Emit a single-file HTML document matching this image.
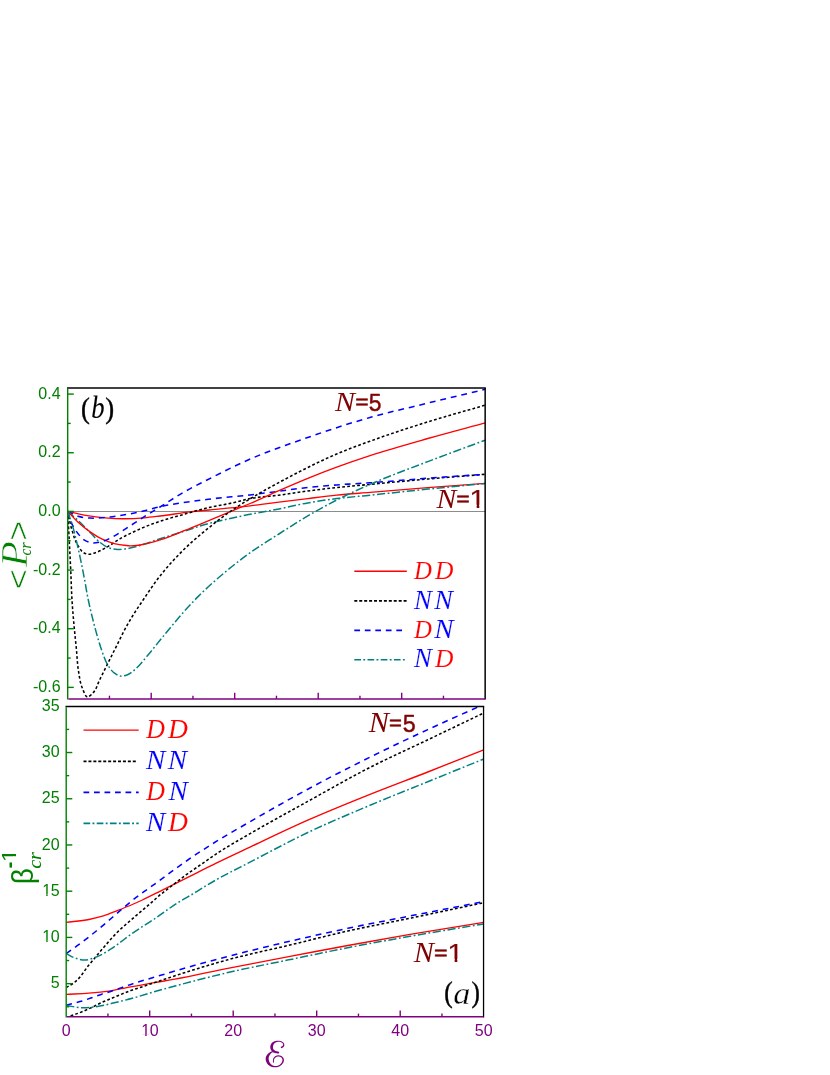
<!DOCTYPE html>
<html><head><meta charset="utf-8"><title>chart</title>
<style>html,body{margin:0;padding:0;background:#fff}svg{display:block}text{font-family:"Liberation Sans", sans-serif}</style></head><body>
<svg width="830" height="1075" viewBox="0 0 830 1075">
<rect width="830" height="1075" fill="#fff"/>
<g opacity="0.999">
<defs>
<clipPath id="ct"><rect x="67.70" y="388.05" width="417.45" height="310.85"/></clipPath>
<clipPath id="cb"><rect x="66.20" y="706.50" width="417.35" height="310.30"/></clipPath>
<clipPath id="one"><path d="M-5 -90H70V-11H34.05V3H25.1V-11H-5Z"/></clipPath>
</defs>
<line x1="67.70" y1="511.5" x2="485.15" y2="511.5" stroke="#7f7f7f" stroke-width="0.9"/>
<path d="M67.70 511.40 C73.17 512.63 78.59 514.09 84.10 515.10 C92.05 516.56 100.13 517.52 108.20 518.10 C113.02 518.45 117.87 518.66 122.70 518.70 C129.90 518.76 137.12 518.40 144.30 517.80 C149.55 517.36 154.77 516.64 160.00 516.00 C170.05 514.77 180.05 513.09 190.10 511.90 C200.11 510.72 210.17 509.92 220.20 508.90 C230.14 507.89 240.08 506.94 250.00 505.80 C259.64 504.70 269.27 503.40 278.90 502.20 C288.53 501.00 298.16 499.77 307.80 498.60 C317.43 497.43 327.05 496.18 336.70 495.20 C347.78 494.07 358.90 493.33 370.00 492.40 C389.27 490.79 408.53 489.12 427.80 487.60 C446.93 486.09 466.07 484.73 485.20 483.30" fill="none" stroke="#ff0000" stroke-width="1.35" clip-path="url(#ct)"/>
<path d="M67.70 511.40 C69.13 517.63 70.10 524.01 72.00 530.10 C73.67 535.44 75.06 541.16 78.10 545.80 C79.79 548.38 81.43 551.67 84.10 553.00 C85.51 553.70 87.30 554.12 88.90 554.20 C91.30 554.32 93.77 553.18 96.10 552.40 C100.35 550.99 104.29 548.62 108.20 546.40 C112.34 544.05 116.07 540.97 120.20 538.60 C124.11 536.36 128.22 534.44 132.30 532.50 C136.26 530.61 140.25 528.78 144.30 527.10 C149.45 524.97 154.72 523.08 160.00 521.30 C167.92 518.63 176.05 516.57 184.10 514.30 C192.12 512.04 200.10 509.61 208.20 507.70 C216.17 505.82 224.31 504.69 232.30 502.90 C238.22 501.57 244.05 499.75 250.00 498.60 C259.51 496.76 269.28 496.46 278.90 495.20 C288.55 493.93 298.15 492.29 307.80 491.00 C317.42 489.72 327.05 488.54 336.70 487.50 C347.78 486.30 358.90 485.43 370.00 484.40 C389.27 482.60 408.52 480.69 427.80 479.00 C446.92 477.32 466.07 475.87 485.20 474.30" fill="none" stroke="#000000" stroke-width="1.55" stroke-dasharray="2.8 2.2" clip-path="url(#ct)"/>
<path d="M67.70 511.40 C71.17 513.03 74.48 515.18 78.10 516.30 C81.92 517.48 86.08 517.82 90.10 518.10 C96.10 518.52 102.20 517.79 108.20 517.20 C114.26 516.60 120.30 515.56 126.30 514.50 C132.33 513.43 138.33 512.18 144.30 510.80 C149.56 509.58 154.74 508.01 160.00 506.80 C175.83 503.16 192.08 501.37 208.20 499.30 C222.09 497.52 236.09 496.55 250.00 494.90 C259.64 493.76 269.27 492.43 278.90 491.20 C288.53 489.97 298.15 488.55 307.80 487.50 C317.41 486.45 327.06 485.65 336.70 484.90 C347.79 484.04 358.90 483.57 370.00 482.80 C389.28 481.47 408.53 479.62 427.80 478.20 C446.93 476.79 466.07 475.60 485.20 474.30" fill="none" stroke="#0000ff" stroke-width="1.55" stroke-dasharray="5.9 4.9" clip-path="url(#ct)"/>
<path d="M67.70 511.40 C71.17 514.43 74.73 517.37 78.10 520.50 C82.24 524.35 86.10 528.50 90.10 532.50 C93.33 535.73 96.21 539.41 99.80 542.20 C102.41 544.23 105.16 546.40 108.20 547.60 C111.17 548.77 114.59 549.20 117.80 549.40 C122.61 549.70 127.56 548.63 132.30 547.60 C136.37 546.72 140.32 545.25 144.30 544.00 C149.56 542.35 154.76 540.50 160.00 538.80 C168.01 536.20 176.07 533.73 184.10 531.20 C192.13 528.67 200.08 525.80 208.20 523.60 C216.15 521.45 224.25 519.87 232.30 518.10 C238.19 516.80 244.09 515.51 250.00 514.30 C259.60 512.34 269.29 510.80 278.90 508.90 C288.55 507.00 298.12 504.62 307.80 502.90 C317.38 501.19 327.04 499.83 336.70 498.60 C347.77 497.20 358.90 496.35 370.00 495.20 C389.27 493.21 408.52 491.04 427.80 489.10 C446.92 487.18 466.07 485.43 485.20 483.60" fill="none" stroke="#008080" stroke-width="1.5" stroke-dasharray="8.2 2.5 1.8 2.5" clip-path="url(#ct)"/>
<path d="M67.70 511.40 C71.17 515.03 74.41 518.91 78.10 522.30 C81.87 525.76 85.90 528.99 90.10 531.90 C93.96 534.58 97.96 537.19 102.20 539.20 C106.03 541.02 110.09 542.54 114.20 543.60 C118.14 544.61 122.24 545.09 126.30 545.50 C127.50 545.62 128.70 545.75 129.90 545.80 C134.71 546.01 139.57 545.08 144.30 544.20 C149.62 543.21 154.83 541.53 160.00 539.90 C168.19 537.32 176.11 533.87 184.10 530.70 C192.17 527.50 200.17 524.11 208.20 520.80 C215.84 517.65 223.46 514.46 231.10 511.30 C237.40 508.69 243.73 506.17 250.00 503.50 C259.71 499.37 269.23 494.82 278.90 490.60 C288.50 486.42 298.10 482.24 307.80 478.30 C317.37 474.41 327.00 470.66 336.70 467.10 C347.72 463.05 358.84 459.25 370.00 455.60 C389.09 449.36 408.47 443.98 427.80 438.50 C446.87 433.09 466.07 428.10 485.20 422.90" fill="none" stroke="#ff0000" stroke-width="1.35" clip-path="url(#ct)"/>
<path d="M67.70 511.40 C68.13 519.60 68.58 527.80 69.00 536.00 C69.62 548.00 70.25 560.00 70.80 572.00 C71.23 581.33 71.42 590.68 72.00 600.00 C72.50 608.04 73.18 616.07 73.90 624.10 C74.62 632.14 75.50 640.17 76.30 648.20 C77.10 656.23 77.30 664.37 78.70 672.30 C79.63 677.58 80.15 683.15 82.30 688.00 C83.70 691.16 85.32 697.12 87.70 697.00 C89.25 696.92 91.54 694.40 93.10 692.80 C96.49 689.32 97.57 683.94 99.80 679.50 C102.61 673.90 105.41 668.30 108.20 662.70 C111.01 657.07 113.79 651.43 116.60 645.80 C119.42 640.16 122.08 634.43 125.10 628.90 C127.76 624.02 130.57 619.22 133.50 614.50 C136.56 609.58 139.85 604.80 143.10 600.00 C148.59 591.90 153.95 583.67 160.00 576.00 C167.41 566.60 175.54 557.67 184.10 549.30 C191.72 541.85 199.91 534.91 208.20 528.20 C216.00 521.88 224.02 515.77 232.30 510.10 C241.24 503.98 250.61 498.44 260.00 493.00 C266.98 488.96 274.09 485.13 281.20 481.30 C287.44 477.94 293.69 474.61 300.00 471.40 C312.07 465.27 324.25 459.30 336.70 454.00 C347.63 449.35 358.83 445.28 370.00 441.20 C389.07 434.23 408.41 427.95 427.80 421.90 C446.82 415.96 466.07 410.77 485.20 405.20" fill="none" stroke="#000000" stroke-width="1.55" stroke-dasharray="2.8 2.2" clip-path="url(#ct)"/>
<path d="M67.70 511.40 C69.13 515.63 70.05 520.12 72.00 524.10 C73.66 527.48 75.71 530.78 78.10 533.70 C79.90 535.89 81.77 538.26 84.10 539.80 C86.22 541.21 88.81 542.37 91.30 542.80 C94.02 543.27 97.05 542.75 99.80 542.20 C103.55 541.45 107.13 539.67 110.60 538.00 C114.83 535.97 118.71 533.20 122.70 530.70 C126.74 528.17 130.70 525.50 134.70 522.90 C138.70 520.30 142.66 517.64 146.70 515.10 C151.09 512.33 155.58 509.72 160.00 507.00 C168.06 502.05 175.88 496.68 184.10 492.00 C191.58 487.74 199.32 483.91 207.00 480.00 C222.58 472.06 238.22 464.12 254.30 457.30 C269.45 450.87 285.07 445.49 300.60 440.00 C323.52 431.90 346.61 424.11 370.00 417.50 C389.10 412.11 408.51 407.82 427.80 403.10 C446.91 398.42 466.07 393.90 485.20 389.30" fill="none" stroke="#0000ff" stroke-width="1.55" stroke-dasharray="5.9 4.9" clip-path="url(#ct)"/>
<path d="M67.70 511.40 C69.13 515.60 70.69 519.76 72.00 524.00 C74.46 531.94 76.22 540.10 78.10 548.20 C80.32 557.78 82.23 567.44 84.10 577.10 C85.58 584.72 86.70 592.41 88.30 600.00 C89.57 606.06 91.00 612.09 92.50 618.10 C94.00 624.12 95.57 630.14 97.30 636.10 C98.83 641.36 100.29 646.67 102.20 651.80 C103.96 656.52 105.44 661.53 108.20 665.70 C109.91 668.28 111.76 671.04 114.20 672.90 C115.97 674.25 118.09 675.75 120.20 676.10 C122.50 676.49 125.24 675.56 127.50 674.70 C131.15 673.32 134.15 670.17 137.10 667.50 C140.67 664.27 143.56 660.28 146.70 656.60 C151.25 651.27 155.57 645.73 160.00 640.30 C162.97 636.67 165.90 633.00 168.90 629.40 C178.18 618.27 187.57 607.14 197.80 596.90 C206.96 587.73 216.70 579.06 226.70 570.80 C234.26 564.55 242.02 558.50 250.00 552.80 C259.34 546.12 269.21 540.18 278.90 534.00 C288.48 527.88 298.00 521.65 307.80 515.90 C317.28 510.34 326.91 505.00 336.70 500.00 C347.61 494.43 358.79 489.34 370.00 484.40 C388.95 476.05 408.46 469.02 427.80 461.60 C446.86 454.29 466.07 447.33 485.20 440.20" fill="none" stroke="#008080" stroke-width="1.5" stroke-dasharray="8.2 2.5 1.8 2.5" clip-path="url(#ct)"/>
<line x1="67.00" y1="388.05" x2="485.85" y2="388.05" stroke="#000" stroke-width="1.5"/>
<line x1="485.15" y1="388.05" x2="485.15" y2="699.60" stroke="#000" stroke-width="1.5"/>
<line x1="67.70" y1="388.75" x2="67.70" y2="699.60" stroke="#008000" stroke-width="1.4"/>
<line x1="68.40" y1="698.90" x2="485.15" y2="698.90" stroke="#800080" stroke-width="1.5"/>
<line x1="67.70" y1="687.38" x2="73.80" y2="687.38" stroke="#008000" stroke-width="1.4"/>
<text x="60.60" y="691.98" font-size="16" fill="#008000" text-anchor="end">-0.6</text>
<line x1="67.70" y1="658.05" x2="70.70" y2="658.05" stroke="#008000" stroke-width="1.4"/>
<line x1="67.70" y1="628.72" x2="73.80" y2="628.72" stroke="#008000" stroke-width="1.4"/>
<text x="60.60" y="633.32" font-size="16" fill="#008000" text-anchor="end">-0.4</text>
<line x1="67.70" y1="599.39" x2="70.70" y2="599.39" stroke="#008000" stroke-width="1.4"/>
<line x1="67.70" y1="570.06" x2="73.80" y2="570.06" stroke="#008000" stroke-width="1.4"/>
<text x="60.60" y="574.66" font-size="16" fill="#008000" text-anchor="end">-0.2</text>
<line x1="67.70" y1="540.73" x2="70.70" y2="540.73" stroke="#008000" stroke-width="1.4"/>
<line x1="67.70" y1="511.40" x2="73.80" y2="511.40" stroke="#008000" stroke-width="1.4"/>
<text x="60.60" y="516.00" font-size="16" fill="#008000" text-anchor="end">0.0</text>
<line x1="67.70" y1="482.07" x2="70.70" y2="482.07" stroke="#008000" stroke-width="1.4"/>
<line x1="67.70" y1="452.74" x2="73.80" y2="452.74" stroke="#008000" stroke-width="1.4"/>
<text x="60.60" y="457.34" font-size="16" fill="#008000" text-anchor="end">0.2</text>
<line x1="67.70" y1="423.41" x2="70.70" y2="423.41" stroke="#008000" stroke-width="1.4"/>
<line x1="67.70" y1="394.08" x2="73.80" y2="394.08" stroke="#008000" stroke-width="1.4"/>
<text x="60.60" y="398.68" font-size="16" fill="#008000" text-anchor="end">0.4</text>
<line x1="109.45" y1="698.90" x2="109.45" y2="695.70" stroke="#800080" stroke-width="1.4"/>
<line x1="151.20" y1="698.90" x2="151.20" y2="692.70" stroke="#800080" stroke-width="1.4"/>
<line x1="192.95" y1="698.90" x2="192.95" y2="695.70" stroke="#800080" stroke-width="1.4"/>
<line x1="234.70" y1="698.90" x2="234.70" y2="692.70" stroke="#800080" stroke-width="1.4"/>
<line x1="276.45" y1="698.90" x2="276.45" y2="695.70" stroke="#800080" stroke-width="1.4"/>
<line x1="318.20" y1="698.90" x2="318.20" y2="692.70" stroke="#800080" stroke-width="1.4"/>
<line x1="359.95" y1="698.90" x2="359.95" y2="695.70" stroke="#800080" stroke-width="1.4"/>
<line x1="401.70" y1="698.90" x2="401.70" y2="692.70" stroke="#800080" stroke-width="1.4"/>
<line x1="443.45" y1="698.90" x2="443.45" y2="695.70" stroke="#800080" stroke-width="1.4"/>
<path d="M66.20 994.30 C73.77 993.93 81.35 993.80 88.90 993.20 C96.15 992.62 103.41 991.87 110.60 990.80 C117.88 989.71 125.06 988.05 132.30 986.70 C139.53 985.35 146.76 983.97 154.00 982.70 C160.99 981.47 168.01 980.44 175.00 979.20 C192.69 976.05 210.18 971.82 227.80 968.30 C248.50 964.17 269.26 960.34 290.00 956.40 C309.26 952.74 328.52 949.04 347.80 945.50 C368.51 941.69 389.24 937.96 410.00 934.40 C434.53 930.20 459.13 926.40 483.70 922.40" fill="none" stroke="#ff0000" stroke-width="1.35" clip-path="url(#cb)"/>
<path d="M66.20 1018.40 C67.03 1017.90 67.85 1017.37 68.70 1016.90 C72.22 1014.95 76.27 1014.12 80.00 1012.60 C83.63 1011.12 87.24 1009.55 90.80 1007.90 C94.48 1006.19 98.01 1004.17 101.70 1002.50 C104.43 1001.26 107.23 1000.16 110.00 999.00 C113.50 997.53 116.99 996.03 120.50 994.60 C123.85 993.23 127.20 991.83 130.60 990.60 C133.70 989.48 136.87 988.54 140.00 987.50 C144.67 985.95 149.33 984.36 154.00 982.80 C161.00 980.46 167.98 978.08 175.00 975.80 C192.49 970.12 210.07 964.63 227.80 959.80 C248.35 954.20 269.28 949.98 290.00 945.00 C309.28 940.37 328.46 935.34 347.80 931.00 C368.45 926.36 389.28 922.51 410.00 918.20 C434.58 913.09 459.13 907.87 483.70 902.70" fill="none" stroke="#000000" stroke-width="1.55" stroke-dasharray="2.8 2.2" clip-path="url(#cb)"/>
<path d="M66.20 1005.20 C70.80 1004.00 75.44 1002.95 80.00 1001.60 C83.63 1000.53 87.22 999.32 90.80 998.10 C94.45 996.86 98.04 995.42 101.70 994.20 C104.65 993.22 107.64 992.36 110.60 991.40 C117.88 989.04 125.02 986.26 132.30 983.90 C139.49 981.57 146.76 979.49 154.00 977.30 C161.00 975.19 167.99 973.06 175.00 971.00 C192.52 965.86 210.14 961.02 227.80 956.40 C248.45 951.00 269.22 946.05 290.00 941.20 C309.22 936.71 328.49 932.37 347.80 928.30 C368.48 923.94 389.26 920.08 410.00 916.00 C434.56 911.17 459.13 906.40 483.70 901.60" fill="none" stroke="#0000ff" stroke-width="1.55" stroke-dasharray="5.9 4.9" clip-path="url(#cb)"/>
<path d="M66.20 1005.50 C71.37 1006.23 76.51 1007.54 81.70 1007.70 C86.48 1007.85 91.34 1007.31 96.10 1006.70 C103.43 1005.76 110.59 1003.61 117.80 1001.90 C122.65 1000.75 127.49 999.59 132.30 998.30 C139.59 996.34 146.74 993.89 154.00 991.80 C160.98 989.79 167.99 987.89 175.00 986.00 C192.53 981.27 210.12 976.72 227.80 972.60 C248.42 967.79 269.26 963.90 290.00 959.60 C309.26 955.61 328.49 951.46 347.80 947.70 C368.49 943.67 389.24 939.96 410.00 936.30 C434.53 931.97 459.13 928.03 483.70 923.90" fill="none" stroke="#008080" stroke-width="1.5" stroke-dasharray="8.2 2.5 1.8 2.5" clip-path="url(#cb)"/>
<path d="M66.20 922.40 C73.77 921.43 81.43 920.99 88.90 919.50 C93.78 918.52 98.66 917.38 103.40 915.90 C108.29 914.37 113.02 912.28 117.80 910.40 C122.65 908.49 127.51 906.56 132.30 904.50 C135.69 903.05 139.06 901.55 142.40 900.00 C147.97 897.41 153.40 894.54 158.90 891.80 C168.55 886.99 178.16 882.12 187.80 877.30 C197.43 872.49 207.02 867.61 216.70 862.90 C227.74 857.52 238.89 852.34 250.00 847.10 C269.22 838.04 288.36 828.77 307.80 820.20 C328.34 811.15 349.16 802.75 370.00 794.40 C389.18 786.72 408.56 779.53 427.80 772.00 C446.46 764.70 465.07 757.27 483.70 749.90" fill="none" stroke="#ff0000" stroke-width="1.35" clip-path="url(#cb)"/>
<path d="M66.20 987.50 C68.97 985.80 71.94 984.34 74.50 982.40 C80.41 977.92 84.10 970.87 88.90 965.10 C93.73 959.30 98.45 953.40 103.40 947.70 C108.09 942.31 112.72 936.81 117.80 931.80 C122.40 927.26 127.43 923.16 132.30 918.90 C139.46 912.62 146.88 906.63 154.00 900.30 C155.64 898.84 157.24 897.33 158.90 895.90 C163.09 892.29 167.62 889.08 172.00 885.70 C177.25 881.64 182.42 877.48 187.80 873.60 C191.80 870.71 195.94 868.01 200.00 865.20 C205.58 861.35 211.05 857.33 216.70 853.60 C227.49 846.48 238.83 840.21 250.00 833.70 C269.06 822.58 288.49 812.08 307.80 801.40 C328.48 789.97 348.96 778.13 370.00 767.40 C389.01 757.71 408.54 749.02 427.80 739.80 C446.44 730.88 465.07 721.93 483.70 713.00" fill="none" stroke="#000000" stroke-width="1.55" stroke-dasharray="2.8 2.2" clip-path="url(#cb)"/>
<path d="M66.20 953.50 C71.37 949.80 76.61 946.21 81.70 942.40 C89.10 936.86 96.30 931.03 103.40 925.10 C108.26 921.04 112.98 916.81 117.80 912.70 C122.51 908.68 127.17 904.58 132.00 900.70 C140.66 893.74 149.92 887.55 158.90 881.00 C168.52 873.98 177.99 866.74 187.80 860.00 C197.27 853.49 206.93 847.25 216.70 841.20 C227.63 834.43 238.86 828.13 250.00 821.70 C269.14 810.65 288.34 799.68 307.80 789.20 C328.32 778.14 349.11 767.54 370.00 757.20 C389.13 747.73 408.42 738.56 427.80 729.60 C445.08 721.61 462.52 713.98 479.90 706.20 C481.17 705.63 482.43 705.07 483.70 704.50" fill="none" stroke="#0000ff" stroke-width="1.55" stroke-dasharray="5.9 4.9" clip-path="url(#cb)"/>
<path d="M66.20 953.50 C68.97 954.93 71.60 956.73 74.50 957.80 C77.71 958.98 81.25 960.00 84.60 960.00 C88.45 960.00 92.42 958.45 96.10 957.10 C101.23 955.22 105.92 952.07 110.60 949.20 C118.23 944.53 124.92 938.39 132.30 933.30 C139.50 928.33 147.02 923.85 154.30 919.00 C162.94 913.25 171.10 906.74 180.00 901.40 C182.57 899.86 185.21 898.41 187.80 896.90 C197.52 891.24 206.90 885.01 216.70 879.50 C227.60 873.37 238.89 867.95 250.00 862.20 C269.24 852.25 288.25 841.80 307.80 832.50 C328.22 822.78 349.15 814.10 370.00 805.30 C389.17 797.21 408.53 789.55 427.80 781.70 C446.43 774.12 465.07 766.57 483.70 759.00" fill="none" stroke="#008080" stroke-width="1.5" stroke-dasharray="8.2 2.5 1.8 2.5" clip-path="url(#cb)"/>
<line x1="65.50" y1="706.50" x2="484.20" y2="706.50" stroke="#000" stroke-width="1.3"/>
<line x1="483.55" y1="706.50" x2="483.55" y2="1017.50" stroke="#000" stroke-width="1.3"/>
<line x1="66.20" y1="707.20" x2="66.20" y2="1017.50" stroke="#008000" stroke-width="1.4"/>
<line x1="66.90" y1="1016.80" x2="483.55" y2="1016.80" stroke="#800080" stroke-width="1.5"/>
<line x1="66.20" y1="983.65" x2="72.30" y2="983.65" stroke="#008000" stroke-width="1.4"/>
<text x="59.60" y="988.25" font-size="16" fill="#008000" text-anchor="end">5</text>
<line x1="66.20" y1="937.42" x2="72.30" y2="937.42" stroke="#008000" stroke-width="1.4"/>
<text transform="translate(42.20 942.02) scale(0.16)" font-size="100" fill="#008000" clip-path="url(#one)">1</text>
<text x="50.70" y="942.02" font-size="16" fill="#008000">0</text>
<line x1="66.20" y1="891.20" x2="72.30" y2="891.20" stroke="#008000" stroke-width="1.4"/>
<text transform="translate(42.20 895.80) scale(0.16)" font-size="100" fill="#008000" clip-path="url(#one)">1</text>
<text x="50.70" y="895.80" font-size="16" fill="#008000">5</text>
<line x1="66.20" y1="844.97" x2="72.30" y2="844.97" stroke="#008000" stroke-width="1.4"/>
<text x="59.60" y="849.57" font-size="16" fill="#008000" text-anchor="end">20</text>
<line x1="66.20" y1="798.75" x2="72.30" y2="798.75" stroke="#008000" stroke-width="1.4"/>
<text x="59.60" y="803.35" font-size="16" fill="#008000" text-anchor="end">25</text>
<line x1="66.20" y1="752.52" x2="72.30" y2="752.52" stroke="#008000" stroke-width="1.4"/>
<text x="59.60" y="757.12" font-size="16" fill="#008000" text-anchor="end">30</text>
<text x="59.60" y="710.90" font-size="16" fill="#008000" text-anchor="end">35</text>
<line x1="66.20" y1="1006.76" x2="69.20" y2="1006.76" stroke="#008000" stroke-width="1.4"/>
<line x1="66.20" y1="960.54" x2="69.20" y2="960.54" stroke="#008000" stroke-width="1.4"/>
<line x1="66.20" y1="914.31" x2="69.20" y2="914.31" stroke="#008000" stroke-width="1.4"/>
<line x1="66.20" y1="868.09" x2="69.20" y2="868.09" stroke="#008000" stroke-width="1.4"/>
<line x1="66.20" y1="821.86" x2="69.20" y2="821.86" stroke="#008000" stroke-width="1.4"/>
<line x1="66.20" y1="775.64" x2="69.20" y2="775.64" stroke="#008000" stroke-width="1.4"/>
<line x1="66.20" y1="729.41" x2="69.20" y2="729.41" stroke="#008000" stroke-width="1.4"/>
<text x="66.20" y="1036.30" font-size="16" fill="#800080" text-anchor="middle">0</text>
<line x1="107.95" y1="1016.80" x2="107.95" y2="1013.60" stroke="#800080" stroke-width="1.4"/>
<line x1="149.70" y1="1016.80" x2="149.70" y2="1010.60" stroke="#800080" stroke-width="1.4"/>
<text transform="translate(141.20 1036.30) scale(0.16)" font-size="100" fill="#800080" clip-path="url(#one)">1</text>
<text x="149.70" y="1036.30" font-size="16" fill="#800080">0</text>
<line x1="191.45" y1="1016.80" x2="191.45" y2="1013.60" stroke="#800080" stroke-width="1.4"/>
<line x1="233.20" y1="1016.80" x2="233.20" y2="1010.60" stroke="#800080" stroke-width="1.4"/>
<text x="233.20" y="1036.30" font-size="16" fill="#800080" text-anchor="middle">20</text>
<line x1="274.95" y1="1016.80" x2="274.95" y2="1013.60" stroke="#800080" stroke-width="1.4"/>
<line x1="316.70" y1="1016.80" x2="316.70" y2="1010.60" stroke="#800080" stroke-width="1.4"/>
<text x="316.70" y="1036.30" font-size="16" fill="#800080" text-anchor="middle">30</text>
<line x1="358.45" y1="1016.80" x2="358.45" y2="1013.60" stroke="#800080" stroke-width="1.4"/>
<line x1="400.20" y1="1016.80" x2="400.20" y2="1010.60" stroke="#800080" stroke-width="1.4"/>
<text x="400.20" y="1036.30" font-size="16" fill="#800080" text-anchor="middle">40</text>
<line x1="441.95" y1="1016.80" x2="441.95" y2="1013.60" stroke="#800080" stroke-width="1.4"/>
<text x="483.70" y="1036.30" font-size="16" fill="#800080" text-anchor="middle">50</text>
<line x1="354.30" y1="571.30" x2="406.80" y2="571.30" stroke="#ff0000" stroke-width="1.4"/>
<line x1="354.30" y1="600.90" x2="406.80" y2="600.90" stroke="#000000" stroke-width="1.7" stroke-dasharray="3.0 1.93"/>
<line x1="354.30" y1="630.40" x2="402.20" y2="630.40" stroke="#0000ff" stroke-width="1.6" stroke-dasharray="5.75 4.75"/>
<line x1="354.30" y1="659.80" x2="406.80" y2="659.80" stroke="#008080" stroke-width="1.6" stroke-dasharray="6.7 2.3 1.9 2.3"/>
<text transform="translate(414.07 578.76) scale(0.2481 0.2607)" font-size="100" font-style="italic" fill="#ff0000" stroke="#fff" stroke-width="0.12" vector-effect="non-scaling-stroke" stroke-linejoin="round" style="font-family:'Liberation Serif', serif">D</text>
<text transform="translate(434.98 578.76) scale(0.2551 0.2607)" font-size="100" font-style="italic" fill="#ff0000" stroke="#fff" stroke-width="0.12" vector-effect="non-scaling-stroke" stroke-linejoin="round" style="font-family:'Liberation Serif', serif">D</text>
<text transform="translate(413.99 608.51) scale(0.2681 0.2630)" font-size="100" font-style="italic" fill="#0000ff" stroke="#fff" stroke-width="0.12" vector-effect="non-scaling-stroke" stroke-linejoin="round" style="font-family:'Liberation Serif', serif">N</text>
<text transform="translate(434.19 608.51) scale(0.2792 0.2630)" font-size="100" font-style="italic" fill="#0000ff" stroke="#fff" stroke-width="0.12" vector-effect="non-scaling-stroke" stroke-linejoin="round" style="font-family:'Liberation Serif', serif">N</text>
<text transform="translate(414.07 637.86) scale(0.2481 0.2622)" font-size="100" font-style="italic" fill="#ff0000" stroke="#fff" stroke-width="0.12" vector-effect="non-scaling-stroke" stroke-linejoin="round" style="font-family:'Liberation Serif', serif">D</text>
<text transform="translate(434.20 637.91) scale(0.2889 0.2630)" font-size="100" font-style="italic" fill="#0000ff" stroke="#fff" stroke-width="0.12" vector-effect="non-scaling-stroke" stroke-linejoin="round" style="font-family:'Liberation Serif', serif">N</text>
<text transform="translate(413.99 667.31) scale(0.2681 0.2630)" font-size="100" font-style="italic" fill="#0000ff" stroke="#fff" stroke-width="0.12" vector-effect="non-scaling-stroke" stroke-linejoin="round" style="font-family:'Liberation Serif', serif">N</text>
<text transform="translate(434.98 667.26) scale(0.2551 0.2622)" font-size="100" font-style="italic" fill="#ff0000" stroke="#fff" stroke-width="0.12" vector-effect="non-scaling-stroke" stroke-linejoin="round" style="font-family:'Liberation Serif', serif">D</text>
<line x1="83.50" y1="730.10" x2="138.70" y2="730.10" stroke="#ff0000" stroke-width="1.4"/>
<line x1="83.50" y1="761.30" x2="136.20" y2="761.30" stroke="#000000" stroke-width="1.7" stroke-dasharray="3.0 1.93"/>
<line x1="83.50" y1="792.40" x2="138.70" y2="792.40" stroke="#0000ff" stroke-width="1.6" stroke-dasharray="5.75 4.75"/>
<line x1="83.50" y1="823.40" x2="138.70" y2="823.40" stroke="#008080" stroke-width="1.6" stroke-dasharray="6.7 2.3 1.9 2.3"/>
<text transform="translate(146.18 738.26) scale(0.2592 0.2729)" font-size="100" font-style="italic" fill="#ff0000" stroke="#fff" stroke-width="0.12" vector-effect="non-scaling-stroke" stroke-linejoin="round" style="font-family:'Liberation Serif', serif">D</text>
<text transform="translate(167.90 738.26) scale(0.2759 0.2729)" font-size="100" font-style="italic" fill="#ff0000" stroke="#fff" stroke-width="0.12" vector-effect="non-scaling-stroke" stroke-linejoin="round" style="font-family:'Liberation Serif', serif">D</text>
<text transform="translate(146.10 769.31) scale(0.2889 0.2752)" font-size="100" font-style="italic" fill="#0000ff" stroke="#fff" stroke-width="0.12" vector-effect="non-scaling-stroke" stroke-linejoin="round" style="font-family:'Liberation Serif', serif">N</text>
<text transform="translate(167.80 769.31) scale(0.2889 0.2752)" font-size="100" font-style="italic" fill="#0000ff" stroke="#fff" stroke-width="0.12" vector-effect="non-scaling-stroke" stroke-linejoin="round" style="font-family:'Liberation Serif', serif">N</text>
<text transform="translate(146.18 800.16) scale(0.2592 0.2729)" font-size="100" font-style="italic" fill="#ff0000" stroke="#fff" stroke-width="0.12" vector-effect="non-scaling-stroke" stroke-linejoin="round" style="font-family:'Liberation Serif', serif">D</text>
<text transform="translate(168.50 800.21) scale(0.2889 0.2737)" font-size="100" font-style="italic" fill="#0000ff" stroke="#fff" stroke-width="0.12" vector-effect="non-scaling-stroke" stroke-linejoin="round" style="font-family:'Liberation Serif', serif">N</text>
<text transform="translate(146.10 831.31) scale(0.2889 0.2752)" font-size="100" font-style="italic" fill="#0000ff" stroke="#fff" stroke-width="0.12" vector-effect="non-scaling-stroke" stroke-linejoin="round" style="font-family:'Liberation Serif', serif">N</text>
<text transform="translate(167.90 831.26) scale(0.2759 0.2744)" font-size="100" font-style="italic" fill="#ff0000" stroke="#fff" stroke-width="0.12" vector-effect="non-scaling-stroke" stroke-linejoin="round" style="font-family:'Liberation Serif', serif">D</text>
<text transform="translate(335.07 410.95) scale(0.2997 0.2764)" font-size="100" font-style="italic" fill="#800000" style="font-family:'Liberation Serif', serif">N</text>
<text transform="translate(355.30 409.04) scale(0.2295 0.2001)" font-size="100" font-style="normal" fill="#800000" stroke="#800000" stroke-width="0.55" vector-effect="non-scaling-stroke" stroke-linejoin="round" style="font-family:'Liberation Sans', sans-serif">=</text>
<text transform="translate(368.86 410.89) scale(0.2288 0.2429)" font-size="100" font-style="normal" fill="#800000" stroke="#800000" stroke-width="0.45" vector-effect="non-scaling-stroke" stroke-linejoin="round" style="font-family:'Liberation Sans', sans-serif">5</text>
<text transform="translate(436.47 507.65) scale(0.2969 0.2825)" font-size="100" font-style="italic" fill="#800000" style="font-family:'Liberation Serif', serif">N</text>
<text transform="translate(456.19 505.99) scale(0.2316 0.2032)" font-size="100" font-style="normal" fill="#800000" stroke="#800000" stroke-width="0.55" vector-effect="non-scaling-stroke" stroke-linejoin="round" style="font-family:'Liberation Sans', sans-serif">=</text>
<text transform="translate(469.30 507.58) scale(0.2935 0.2507)" font-size="100" font-style="normal" fill="#800000" stroke="#800000" stroke-width="0.15" vector-effect="non-scaling-stroke" stroke-linejoin="round" clip-path="url(#one)" style="font-family:'Liberation Sans', sans-serif">1</text>
<text transform="translate(368.67 731.95) scale(0.3039 0.2871)" font-size="100" font-style="italic" fill="#800000" style="font-family:'Liberation Serif', serif">N</text>
<text transform="translate(388.94 729.74) scale(0.2213 0.2001)" font-size="100" font-style="normal" fill="#800000" stroke="#800000" stroke-width="0.55" vector-effect="non-scaling-stroke" stroke-linejoin="round" style="font-family:'Liberation Sans', sans-serif">=</text>
<text transform="translate(402.64 731.68) scale(0.2331 0.2458)" font-size="100" font-style="normal" fill="#800000" stroke="#800000" stroke-width="0.45" vector-effect="non-scaling-stroke" stroke-linejoin="round" style="font-family:'Liberation Sans', sans-serif">5</text>
<text transform="translate(413.77 961.95) scale(0.3025 0.2856)" font-size="100" font-style="italic" fill="#800000" style="font-family:'Liberation Serif', serif">N</text>
<text transform="translate(434.08 960.04) scale(0.2336 0.2001)" font-size="100" font-style="normal" fill="#800000" stroke="#800000" stroke-width="0.55" vector-effect="non-scaling-stroke" stroke-linejoin="round" style="font-family:'Liberation Sans', sans-serif">=</text>
<text transform="translate(447.30 961.88) scale(0.2935 0.2522)" font-size="100" font-style="normal" fill="#800000" stroke="#800000" stroke-width="0.15" vector-effect="non-scaling-stroke" stroke-linejoin="round" clip-path="url(#one)" style="font-family:'Liberation Sans', sans-serif">1</text>
<text transform="translate(81.10 418.35) scale(0.2667 0.2994)" font-size="100" font-style="normal" fill="#000" stroke="#000" stroke-width="0.45" vector-effect="non-scaling-stroke" stroke-linejoin="round" style="font-family:'Liberation Serif', serif">(</text>
<text transform="translate(91.31 418.40) scale(0.2658 0.3070)" font-size="100" font-style="italic" fill="#000" stroke="#000" stroke-width="0.10" vector-effect="non-scaling-stroke" stroke-linejoin="round" style="font-family:'Liberation Serif', serif">b</text>
<text transform="translate(105.32 418.35) scale(0.2667 0.2994)" font-size="100" font-style="normal" fill="#000" stroke="#000" stroke-width="0.45" vector-effect="non-scaling-stroke" stroke-linejoin="round" style="font-family:'Liberation Serif', serif">)</text>
<text transform="translate(444.35 1002.44) scale(0.2550 0.2906)" font-size="100" font-style="normal" fill="#000" stroke="#000" stroke-width="0.45" vector-effect="non-scaling-stroke" stroke-linejoin="round" style="font-family:'Liberation Serif', serif">(</text>
<text transform="translate(453.15 1003.50) scale(0.3433 0.3212)" font-size="100" font-style="italic" fill="#000" stroke="#fff" stroke-width="0.35" vector-effect="non-scaling-stroke" stroke-linejoin="round" style="font-family:'Liberation Serif', serif">a</text>
<text transform="translate(471.47 1002.44) scale(0.2511 0.2906)" font-size="100" font-style="normal" fill="#000" stroke="#000" stroke-width="0.45" vector-effect="non-scaling-stroke" stroke-linejoin="round" style="font-family:'Liberation Serif', serif">)</text>
<text transform="translate(29.10 589.35) rotate(-90) scale(0.3437 0.3131)" font-size="100" font-style="normal" fill="#008000" stroke="#fff" stroke-width="0.60" vector-effect="non-scaling-stroke" stroke-linejoin="round" style="font-family:'Liberation Sans', sans-serif">&lt;</text>
<text transform="translate(27.10 567.37) rotate(-90) scale(0.4282 0.3833)" font-size="100" font-style="italic" fill="#008000" stroke="#fff" stroke-width="0.70" vector-effect="non-scaling-stroke" stroke-linejoin="round" style="font-family:'Liberation Serif', serif">P</text>
<text transform="translate(30.88 555.42) rotate(-90) scale(0.1541 0.1705)" font-size="100" font-style="italic" fill="#008000" style="font-family:'Liberation Serif', serif">c</text>
<text transform="translate(30.85 548.72) rotate(-90) scale(0.1650 0.1698)" font-size="100" font-style="italic" fill="#008000" style="font-family:'Liberation Serif', serif">r</text>
<text transform="translate(29.10 540.65) rotate(-90) scale(0.3437 0.3131)" font-size="100" font-style="normal" fill="#008000" stroke="#fff" stroke-width="0.60" vector-effect="non-scaling-stroke" stroke-linejoin="round" style="font-family:'Liberation Sans', sans-serif">&gt;</text>
<text transform="translate(33.18 884.18) rotate(-90) scale(0.2788 0.2875)" font-size="100" font-style="normal" fill="#008000" style="font-family:'Liberation Sans', sans-serif">β</text>
<text transform="translate(18.80 868.58) rotate(-90) scale(0.2089 0.3200)" font-size="100" font-style="normal" fill="#008000" style="font-family:'Liberation Sans', sans-serif">-</text>
<text transform="translate(15.55 862.00) rotate(-90) scale(0.2339 0.2079)" font-size="100" font-style="normal" fill="#008000" clip-path="url(#one)" style="font-family:'Liberation Sans', sans-serif">1</text>
<text transform="translate(41.16 868.78) rotate(-90) scale(0.2038 0.1913)" font-size="100" font-style="italic" fill="#008000" style="font-family:'Liberation Serif', serif">c</text>
<text transform="translate(41.15 860.07) rotate(-90) scale(0.2020 0.1910)" font-size="100" font-style="italic" fill="#008000" style="font-family:'Liberation Serif', serif">r</text>
<path d="M281.28 1048.29 L281.35 1048.25 L281.45 1048.21 L281.57 1048.15 L281.71 1048.08 L281.88 1048.01 L282.05 1047.93 L282.23 1047.84 L282.42 1047.75 L282.61 1047.64 L282.80 1047.53 L282.99 1047.42 L283.17 1047.29 L283.34 1047.14 L283.49 1046.99 L283.61 1046.85 L283.72 1046.71 L283.82 1046.56 L283.92 1046.40 L284.01 1046.24 L284.09 1046.08 L284.16 1045.90 L284.22 1045.73 L284.27 1045.54 L284.31 1045.35 L284.34 1045.16 L284.35 1044.97 L284.34 1044.77 L284.32 1044.57 L284.28 1044.39 L284.24 1044.20 L284.18 1044.02 L284.11 1043.83 L284.03 1043.64 L283.94 1043.45 L283.83 1043.26 L283.72 1043.07 L283.59 1042.89 L283.45 1042.71 L283.30 1042.54 L283.13 1042.37 L282.96 1042.21 L282.77 1042.07 L282.57 1041.93 L282.35 1041.81 L282.13 1041.68 L281.89 1041.57 L281.64 1041.45 L281.38 1041.35 L281.11 1041.25 L280.84 1041.15 L280.56 1041.07 L280.28 1040.99 L279.99 1040.92 L279.71 1040.86 L279.42 1040.81 L279.14 1040.77 L278.86 1040.74 L278.56 1040.72 L278.27 1040.71 L277.96 1040.71 L277.65 1040.72 L277.34 1040.73 L277.03 1040.76 L276.72 1040.79 L276.42 1040.83 L276.11 1040.88 L275.81 1040.93 L275.52 1041.00 L275.24 1041.07 L274.96 1041.15 L274.69 1041.24 L274.42 1041.34 L274.15 1041.44 L273.89 1041.56 L273.63 1041.69 L273.37 1041.82 L273.12 1041.97 L272.88 1042.12 L272.65 1042.28 L272.42 1042.45 L272.21 1042.63 L272.00 1042.81 L271.80 1043.01 L271.62 1043.21 L271.44 1043.43 L271.28 1043.67 L271.13 1043.90 L270.99 1044.15 L270.87 1044.40 L270.75 1044.66 L270.66 1044.91 L270.57 1045.17 L270.49 1045.43 L270.43 1045.69 L270.38 1045.96 L270.33 1046.21 L270.30 1046.47 L270.28 1046.73 L270.27 1046.98 L270.27 1047.24 L270.28 1047.50 L270.30 1047.76 L270.33 1048.03 L270.37 1048.29 L270.43 1048.56 L270.50 1048.83 L270.58 1049.09 L270.67 1049.35 L270.78 1049.61 L270.90 1049.87 L271.04 1050.12 L271.20 1050.37 L271.37 1050.61 L271.56 1050.83 L271.76 1051.05 L271.97 1051.25 L272.18 1051.44 L272.40 1051.62 L272.63 1051.79 L272.86 1051.96 L273.10 1052.11 L273.33 1052.26 L273.57 1052.39 L273.80 1052.52 L274.03 1052.64 L274.27 1052.76 L274.53 1052.87 L274.80 1052.96 L275.06 1053.05 L275.33 1053.12 L275.59 1053.17 L275.84 1053.22 L276.09 1053.26 L276.32 1053.30 L276.55 1053.33 L276.76 1053.35 L276.96 1053.37 L277.14 1053.39 L277.30 1053.41 L277.44 1053.42 L277.59 1053.44 L277.75 1053.45 L277.89 1053.46 L278.03 1053.47 L278.16 1053.47 L278.28 1053.47 L278.40 1053.46 L278.50 1053.46 L278.60 1053.45 L278.69 1053.44 L278.77 1053.43 L278.84 1053.43 L278.91 1053.42 L278.96 1053.42 L279.23 1052.05 L279.18 1052.02 L279.11 1052.00 L279.05 1051.96 L278.97 1051.93 L278.89 1051.89 L278.81 1051.85 L278.71 1051.80 L278.61 1051.76 L278.51 1051.71 L278.39 1051.66 L278.27 1051.61 L278.15 1051.57 L278.01 1051.52 L277.86 1051.47 L277.67 1051.42 L277.48 1051.37 L277.28 1051.33 L277.07 1051.29 L276.87 1051.25 L276.66 1051.22 L276.46 1051.18 L276.25 1051.13 L276.06 1051.09 L275.87 1051.04 L275.69 1050.98 L275.53 1050.92 L275.39 1050.86 L275.25 1050.79 L275.10 1050.69 L274.93 1050.59 L274.76 1050.47 L274.59 1050.35 L274.42 1050.22 L274.26 1050.09 L274.10 1049.95 L273.95 1049.82 L273.80 1049.68 L273.68 1049.54 L273.56 1049.40 L273.46 1049.27 L273.38 1049.14 L273.31 1049.03 L273.25 1048.91 L273.20 1048.79 L273.15 1048.65 L273.11 1048.51 L273.07 1048.36 L273.04 1048.21 L273.02 1048.05 L273.00 1047.89 L272.98 1047.72 L272.97 1047.55 L272.97 1047.38 L272.97 1047.22 L272.97 1047.05 L272.97 1046.89 L272.98 1046.72 L273.00 1046.56 L273.02 1046.39 L273.04 1046.22 L273.08 1046.05 L273.11 1045.88 L273.15 1045.71 L273.20 1045.54 L273.25 1045.37 L273.30 1045.21 L273.36 1045.06 L273.42 1044.91 L273.49 1044.76 L273.56 1044.62 L273.65 1044.47 L273.74 1044.31 L273.84 1044.15 L273.96 1043.99 L274.08 1043.83 L274.21 1043.66 L274.35 1043.50 L274.49 1043.34 L274.65 1043.19 L274.81 1043.04 L274.98 1042.90 L275.15 1042.77 L275.34 1042.65 L275.52 1042.54 L275.73 1042.43 L275.94 1042.34 L276.18 1042.24 L276.42 1042.16 L276.68 1042.08 L276.94 1042.00 L277.21 1041.94 L277.48 1041.88 L277.76 1041.84 L278.03 1041.80 L278.30 1041.78 L278.56 1041.76 L278.81 1041.76 L279.05 1041.76 L279.29 1041.78 L279.54 1041.81 L279.79 1041.86 L280.04 1041.92 L280.29 1041.98 L280.54 1042.06 L280.78 1042.14 L281.02 1042.24 L281.25 1042.34 L281.46 1042.44 L281.67 1042.55 L281.85 1042.66 L282.02 1042.77 L282.17 1042.87 L282.30 1042.98 L282.42 1043.09 L282.53 1043.22 L282.63 1043.35 L282.72 1043.48 L282.81 1043.63 L282.88 1043.77 L282.94 1043.91 L283.00 1044.06 L283.04 1044.20 L283.08 1044.34 L283.10 1044.47 L283.12 1044.60 L283.13 1044.71 L283.12 1044.80 L283.11 1044.88 L283.09 1044.97 L283.06 1045.06 L283.02 1045.15 L282.98 1045.24 L282.92 1045.33 L282.86 1045.42 L282.80 1045.52 L282.73 1045.61 L282.65 1045.70 L282.57 1045.79 L282.49 1045.87 L282.41 1045.95 L282.34 1046.01 L282.26 1046.07 L282.14 1046.15 L282.01 1046.23 L281.87 1046.32 L281.71 1046.40 L281.55 1046.48 L281.39 1046.56 L281.23 1046.64 L281.08 1046.72 L280.93 1046.79 L280.80 1046.85 L280.67 1046.91 L280.58 1046.96Z" fill="#800080"/>
<path d="M274.26 1051.27 L274.18 1051.27 L274.08 1051.27 L273.95 1051.26 L273.80 1051.25 L273.63 1051.23 L273.44 1051.22 L273.24 1051.21 L273.03 1051.21 L272.81 1051.21 L272.58 1051.22 L272.35 1051.25 L272.11 1051.28 L271.87 1051.34 L271.63 1051.41 L271.40 1051.50 L271.18 1051.60 L270.95 1051.70 L270.72 1051.82 L270.49 1051.94 L270.25 1052.08 L270.02 1052.22 L269.79 1052.37 L269.55 1052.52 L269.33 1052.68 L269.10 1052.85 L268.88 1053.02 L268.67 1053.19 L268.47 1053.37 L268.28 1053.55 L268.08 1053.73 L267.89 1053.93 L267.70 1054.12 L267.51 1054.33 L267.32 1054.54 L267.14 1054.76 L266.96 1054.99 L266.80 1055.22 L266.63 1055.46 L266.48 1055.71 L266.34 1055.97 L266.21 1056.23 L266.10 1056.50 L266.00 1056.76 L265.92 1057.03 L265.85 1057.30 L265.79 1057.57 L265.74 1057.84 L265.70 1058.12 L265.67 1058.40 L265.66 1058.68 L265.66 1058.96 L265.67 1059.24 L265.69 1059.52 L265.72 1059.80 L265.76 1060.08 L265.82 1060.35 L265.88 1060.63 L265.96 1060.91 L266.05 1061.20 L266.14 1061.48 L266.25 1061.77 L266.37 1062.06 L266.50 1062.34 L266.64 1062.62 L266.79 1062.90 L266.95 1063.18 L267.12 1063.45 L267.30 1063.71 L267.49 1063.97 L267.69 1064.21 L267.90 1064.44 L268.12 1064.66 L268.35 1064.88 L268.59 1065.08 L268.83 1065.28 L269.08 1065.46 L269.34 1065.64 L269.60 1065.81 L269.87 1065.97 L270.13 1066.13 L270.40 1066.27 L270.68 1066.41 L270.95 1066.53 L271.22 1066.65 L271.49 1066.75 L271.77 1066.85 L272.05 1066.94 L272.33 1067.02 L272.62 1067.09 L272.91 1067.16 L273.20 1067.21 L273.49 1067.26 L273.78 1067.30 L274.07 1067.33 L274.36 1067.35 L274.66 1067.36 L274.95 1067.37 L275.24 1067.36 L275.53 1067.35 L275.83 1067.32 L276.12 1067.29 L276.43 1067.25 L276.73 1067.21 L277.03 1067.15 L277.34 1067.09 L277.64 1067.01 L277.94 1066.93 L278.23 1066.84 L278.53 1066.74 L278.82 1066.63 L279.10 1066.51 L279.37 1066.38 L279.64 1066.23 L279.91 1066.08 L280.18 1065.91 L280.44 1065.73 L280.69 1065.54 L280.95 1065.34 L281.19 1065.14 L281.43 1064.93 L281.66 1064.71 L281.88 1064.49 L282.10 1064.27 L282.30 1064.05 L282.48 1063.82 L282.66 1063.60 L282.82 1063.37 L282.97 1063.13 L283.12 1062.89 L283.25 1062.65 L283.38 1062.40 L283.49 1062.14 L283.59 1061.88 L283.69 1061.63 L283.77 1061.36 L283.83 1061.10 L283.88 1060.84 L283.92 1060.57 L283.94 1060.31 L283.94 1060.05 L283.93 1059.78 L283.89 1059.52 L283.84 1059.26 L283.77 1059.01 L283.69 1058.75 L283.60 1058.51 L283.49 1058.27 L283.37 1058.03 L283.24 1057.80 L283.10 1057.58 L282.95 1057.37 L282.79 1057.17 L282.62 1056.98 L282.45 1056.80 L282.26 1056.63 L282.05 1056.48 L281.84 1056.33 L281.62 1056.19 L281.39 1056.07 L281.15 1055.95 L280.91 1055.84 L280.66 1055.74 L280.42 1055.66 L280.17 1055.58 L279.92 1055.51 L279.67 1055.45 L279.42 1055.41 L279.18 1055.37 L278.93 1055.34 L278.68 1055.33 L278.42 1055.32 L278.17 1055.32 L277.91 1055.34 L277.65 1055.36 L277.39 1055.39 L277.13 1055.44 L276.88 1055.49 L276.63 1055.55 L276.38 1055.63 L276.14 1055.71 L275.91 1055.80 L275.69 1055.91 L275.47 1056.04 L275.26 1056.17 L275.06 1056.33 L274.87 1056.49 L274.68 1056.66 L274.50 1056.84 L274.33 1057.02 L274.17 1057.21 L274.02 1057.40 L273.88 1057.59 L273.75 1057.78 L273.63 1057.97 L273.51 1058.16 L273.41 1058.35 L273.31 1058.55 L273.23 1058.76 L273.16 1058.97 L273.10 1059.17 L273.05 1059.38 L273.02 1059.58 L272.99 1059.78 L272.97 1059.98 L272.95 1060.17 L272.94 1060.35 L272.93 1060.53 L272.92 1060.69 L272.92 1060.85 L272.91 1061.00 L272.91 1061.15 L272.91 1061.32 L272.92 1061.47 L272.94 1061.62 L272.96 1061.77 L272.99 1061.90 L273.01 1062.03 L273.04 1062.15 L273.07 1062.26 L273.09 1062.36 L273.11 1062.45 L273.13 1062.53 L273.15 1062.58 L273.16 1062.64 L274.05 1062.50 L274.04 1062.43 L274.02 1062.34 L274.01 1062.26 L273.99 1062.16 L273.97 1062.07 L273.96 1061.97 L273.94 1061.86 L273.93 1061.75 L273.91 1061.64 L273.90 1061.52 L273.90 1061.41 L273.90 1061.29 L273.90 1061.18 L273.91 1061.05 L273.92 1060.91 L273.94 1060.76 L273.95 1060.60 L273.96 1060.43 L273.98 1060.27 L274.00 1060.10 L274.03 1059.93 L274.06 1059.77 L274.09 1059.61 L274.14 1059.45 L274.18 1059.30 L274.24 1059.15 L274.30 1059.01 L274.37 1058.88 L274.46 1058.73 L274.56 1058.58 L274.67 1058.42 L274.79 1058.26 L274.92 1058.11 L275.05 1057.95 L275.19 1057.80 L275.33 1057.65 L275.48 1057.51 L275.63 1057.38 L275.78 1057.26 L275.94 1057.16 L276.09 1057.06 L276.24 1056.98 L276.40 1056.91 L276.57 1056.84 L276.76 1056.77 L276.95 1056.71 L277.15 1056.66 L277.36 1056.62 L277.57 1056.58 L277.78 1056.55 L278.00 1056.53 L278.21 1056.52 L278.42 1056.52 L278.63 1056.52 L278.82 1056.54 L279.02 1056.56 L279.21 1056.59 L279.41 1056.63 L279.61 1056.68 L279.81 1056.74 L280.02 1056.81 L280.22 1056.89 L280.42 1056.98 L280.61 1057.07 L280.79 1057.17 L280.97 1057.27 L281.13 1057.38 L281.28 1057.49 L281.41 1057.61 L281.53 1057.73 L281.64 1057.85 L281.75 1057.99 L281.85 1058.14 L281.95 1058.31 L282.04 1058.47 L282.12 1058.65 L282.19 1058.83 L282.26 1059.01 L282.31 1059.20 L282.36 1059.38 L282.40 1059.56 L282.42 1059.74 L282.44 1059.91 L282.44 1060.07 L282.44 1060.24 L282.43 1060.41 L282.40 1060.60 L282.37 1060.79 L282.32 1060.98 L282.27 1061.18 L282.21 1061.39 L282.13 1061.59 L282.05 1061.80 L281.96 1062.00 L281.86 1062.20 L281.75 1062.40 L281.64 1062.60 L281.51 1062.79 L281.38 1062.98 L281.23 1063.18 L281.07 1063.38 L280.90 1063.58 L280.72 1063.78 L280.53 1063.98 L280.33 1064.18 L280.13 1064.37 L279.91 1064.56 L279.70 1064.73 L279.48 1064.90 L279.26 1065.05 L279.04 1065.19 L278.82 1065.31 L278.60 1065.42 L278.36 1065.52 L278.12 1065.62 L277.87 1065.70 L277.61 1065.78 L277.35 1065.85 L277.08 1065.91 L276.81 1065.96 L276.54 1066.00 L276.28 1066.03 L276.01 1066.05 L275.75 1066.06 L275.49 1066.07 L275.24 1066.06 L275.00 1066.05 L274.75 1066.02 L274.51 1065.98 L274.27 1065.94 L274.03 1065.88 L273.79 1065.82 L273.55 1065.75 L273.32 1065.67 L273.09 1065.58 L272.87 1065.49 L272.65 1065.39 L272.44 1065.28 L272.23 1065.16 L272.03 1065.04 L271.84 1064.91 L271.65 1064.77 L271.46 1064.62 L271.28 1064.46 L271.10 1064.30 L270.92 1064.13 L270.75 1063.95 L270.59 1063.77 L270.43 1063.58 L270.28 1063.39 L270.14 1063.21 L270.01 1063.02 L269.89 1062.84 L269.78 1062.66 L269.67 1062.48 L269.58 1062.29 L269.48 1062.09 L269.39 1061.89 L269.30 1061.68 L269.22 1061.46 L269.14 1061.24 L269.07 1061.02 L269.01 1060.80 L268.94 1060.59 L268.89 1060.37 L268.84 1060.16 L268.80 1059.96 L268.76 1059.77 L268.73 1059.58 L268.70 1059.40 L268.68 1059.22 L268.67 1059.04 L268.65 1058.87 L268.65 1058.70 L268.65 1058.53 L268.65 1058.36 L268.66 1058.19 L268.67 1058.03 L268.68 1057.86 L268.71 1057.69 L268.73 1057.52 L268.77 1057.36 L268.80 1057.19 L268.85 1057.02 L268.90 1056.84 L268.96 1056.66 L269.03 1056.46 L269.11 1056.27 L269.20 1056.07 L269.29 1055.87 L269.39 1055.67 L269.50 1055.47 L269.61 1055.27 L269.72 1055.08 L269.84 1054.89 L269.96 1054.70 L270.09 1054.52 L270.22 1054.34 L270.36 1054.16 L270.51 1053.98 L270.66 1053.80 L270.82 1053.62 L270.99 1053.44 L271.15 1053.28 L271.32 1053.12 L271.48 1052.97 L271.65 1052.84 L271.81 1052.71 L271.96 1052.60 L272.11 1052.51 L272.24 1052.44 L272.38 1052.39 L272.54 1052.34 L272.71 1052.31 L272.88 1052.29 L273.06 1052.27 L273.24 1052.26 L273.41 1052.26 L273.58 1052.26 L273.74 1052.27 L273.90 1052.27 L274.04 1052.28 L274.18 1052.28 L274.29 1052.27Z" fill="#800080"/>
</g></svg></body></html>
